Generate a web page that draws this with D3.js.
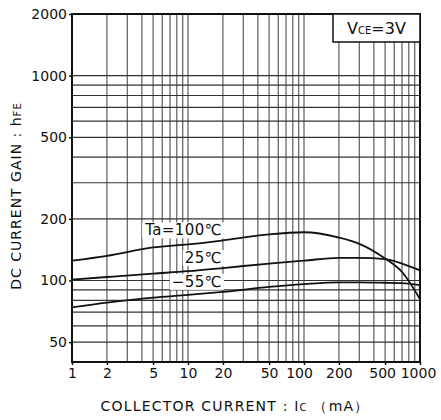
<!DOCTYPE html>
<html>
<head>
<meta charset="utf-8">
<script src="https://cdn.jsdelivr.net/npm/d3@7"></script>
<style>
  body { margin: 0; background: #fff; }
  text { font-family: "DejaVu Sans", "Liberation Sans", sans-serif; fill: #111; }
</style>
</head>
<body>
<svg id="chart" width="441" height="420"></svg>
<script>
// Collector current (mA) sample points along each curve
const currentMA = [1, 2, 5, 10, 20, 50, 100, 200, 300, 500, 700, 1000];
// DC current gain hFE at each ambient temperature
const gainTa100 = [125, 132, 145, 150, 157, 168, 172, 162, 151, 128, 110, 81];
const gainTa25  = [101, 104, 108, 111, 115, 121, 125, 129, 129, 127, 121, 112];
const gainTaM55 = [74, 78, 82.5, 85, 88, 93, 96, 98, 98, 97.5, 97, 95];

const curveNames = ["Ta=100℃", "25℃", "−55℃"];

// Axis tick labels
const xTickValues = [1, 2, 5, 10, 20, 50, 100, 200, 500, 1000];
const yTickValues = [50, 100, 200, 500, 1000, 2000];
// Grid lines
const xGridValues = [1,2,3,4,5,6,7,8,9,10,20,30,40,50,60,70,80,90,100,200,300,400,500,600,700,800,900,1000];
const yGridValues = [50,60,70,80,90,100,200,300,400,500,600,700,800,900,1000];

const svg = d3.select("#chart");
const plotL = 72, plotR = 420, plotT = 14, plotB = 362;

const x = d3.scaleLog().domain([1, 1000]).range([plotL, plotR]);
const y = d3.scaleLog().domain([40, 2000]).range([plotB, plotT]);

// Condition box bounds (grid does not run through it)
const boxX = 333, boxBottom = 42;

// Vertical grid
svg.append("g").selectAll("line").data(xGridValues).join("line")
  .attr("x1", d => x(d)).attr("x2", d => x(d))
  .attr("y1", d => x(d) >= boxX ? boxBottom : plotT).attr("y2", plotB)
  .attr("stroke", "#6a6a6a").attr("stroke-width", 1.3);

// Horizontal grid
svg.append("g").selectAll("line").data(yGridValues).join("line")
  .attr("x1", plotL).attr("x2", plotR)
  .attr("y1", d => y(d)).attr("y2", d => y(d))
  .attr("stroke", "#333").attr("stroke-width", 1.2);

// Curves
const line = d3.line()
  .x((d, i) => x(currentMA[i]))
  .y(d => y(d))
  .curve(d3.curveMonotoneX);

const series = [gainTa100, gainTa25, gainTaM55];
svg.append("g").selectAll("path").data(series).join("path")
  .attr("d", d => line(d))
  .attr("fill", "none").attr("stroke", "#111").attr("stroke-width", 1.8);

// Curve labels, right-aligned at 20 mA just above each curve
const labelAt = 20;
const idx = currentMA.indexOf(labelAt);
const labels = svg.append("g");
series.forEach((s, i) => {
  const g = labels.append("g");
  const t = g.append("text")
    .attr("x", x(labelAt) - 1)
    .attr("y", y(s[idx]) - 5)
    .attr("text-anchor", "end")
    .attr("font-size", 15)
    .attr("letter-spacing", 0.4)
    .text(curveNames[i]);
  const b = t.node().getBBox();
  g.insert("rect", "text")
    .attr("x", b.x - 2).attr("y", b.y + 1)
    .attr("width", b.width + 4).attr("height", b.height - 2)
    .attr("fill", "#fff");
});

// Axes
const yAxis = d3.axisLeft(y).tickValues(yTickValues).tickFormat(d3.format("d")).tickSize(3).tickPadding(2);
const gy = svg.append("g").attr("transform", `translate(${plotL},0)`).call(yAxis);
gy.select(".domain").remove();
gy.selectAll("text").attr("font-size", 14).attr("fill", "#111").attr("font-family", null);
gy.selectAll("line").attr("stroke", "#111").attr("stroke-width", 1.5);

const xAxis = d3.axisBottom(x).tickValues(xTickValues).tickFormat(d3.format("d")).tickSize(3).tickPadding(3);
const gx = svg.append("g").attr("transform", `translate(0,${plotB})`).call(xAxis);
gx.select(".domain").remove();
gx.selectAll("text").attr("font-size", 14).attr("fill", "#111")
  .attr("dx", d => d === 100 ? -5 : d === 500 ? -3 : d === 1000 ? -2 : 0);
gx.selectAll("line").attr("stroke", "#111").attr("stroke-width", 1.5);
svg.selectAll(".tick text").attr("font-family", null);
d3.selectAll("g[font-family]").attr("font-family", null);

// Frame
svg.append("rect")
  .attr("x", plotL).attr("y", plotT)
  .attr("width", plotR - plotL).attr("height", plotB - plotT)
  .attr("fill", "none").attr("stroke", "#111").attr("stroke-width", 2);

// Condition box
svg.append("rect")
  .attr("x", boxX).attr("y", plotT)
  .attr("width", plotR - boxX).attr("height", boxBottom - plotT)
  .attr("fill", "#fff").attr("stroke", "#111").attr("stroke-width", 1.5);
const cond = svg.append("text")
  .attr("x", (boxX + plotR) / 2).attr("y", 34)
  .attr("text-anchor", "middle").attr("font-size", 16);
cond.append("tspan").text("V");
cond.append("tspan").attr("font-size", 10).text("CE");
cond.append("tspan").text("=3V");

// Axis titles
const xt = svg.append("text")
  .attr("x", 235).attr("y", 411)
  .attr("text-anchor", "middle").attr("font-size", 14)
  .attr("letter-spacing", 1.2);
xt.append("tspan").text("COLLECTOR CURRENT : I");
xt.append("tspan").attr("font-size", 10).text("C");
xt.append("tspan").text(" （mA）");

const yt = svg.append("text")
  .attr("transform", "translate(21,196) rotate(-90)")
  .attr("text-anchor", "middle").attr("font-size", 14)
  .attr("letter-spacing", 1);
yt.append("tspan").text("DC CURRENT GAIN : h");
yt.append("tspan").attr("font-size", 10).text("FE");
</script>
</body>
</html>
